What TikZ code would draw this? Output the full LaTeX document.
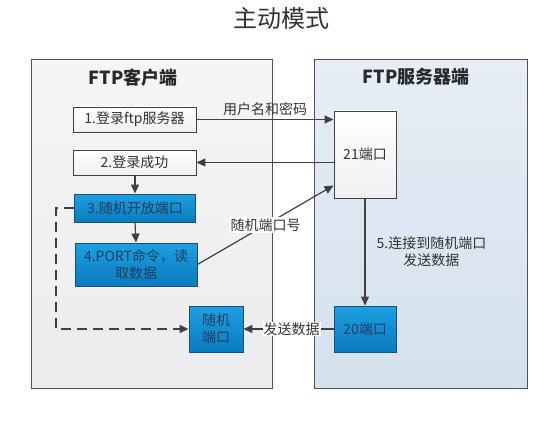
\documentclass[tikz,border=0pt]{standalone}
\usepackage{fontspec}
\setmainfont{Noto Sans CJK SC}
\usetikzlibrary{arrows.meta,calc}
\definecolor{linec}{HTML}{404040}
\definecolor{txt}{HTML}{333333}
\definecolor{bluetop}{HTML}{1E9FE3}
\definecolor{bluebot}{HTML}{0A7BBE}
\definecolor{blueedge}{HTML}{1B4F7A}
\definecolor{bluetxt}{HTML}{1F3F5E}
\tikzset{
  panelL/.style={draw=linec!90, line width=1pt, top color=gray!8, bottom color=gray!15},
  panelR/.style={draw=linec!90, line width=1pt, top color={rgb,255:red,230;green,237;blue,245}, bottom color={rgb,255:red,212;green,225;blue,237}},
  whitebox/.style={draw=linec, line width=0.9pt, top color=white, bottom color=gray!12, text=txt, font=\fontsize{14}{16}\selectfont, inner sep=2pt},
  bluebox/.style={draw=blueedge, line width=0.9pt, top color=bluetop, bottom color=bluebot, text=bluetxt, font=\fontsize{14}{17}\selectfont, align=center, inner sep=2pt},
  conn/.style={draw=linec, line width=1.2pt, -{Triangle[length=9pt,width=8pt]}},
  lbl/.style={text=txt, font=\fontsize{14}{17}\selectfont, inner sep=1pt},
  ptitle/.style={text=txt!80!black, font=\fontsize{18}{20}\selectfont\bfseries},
}
\begin{document}
\begin{tikzpicture}[x=1pt,y=-1pt]
\useasboundingbox[fill=white] (0,0) rectangle (549,433);
% title
\node[text=txt, font=\fontsize{24}{26}\selectfont] (title) at (281,18) {主动模式};
% panels
\path[panelL] (31,60) rectangle (272,388);
\path[panelR] (314,60) rectangle (527,388);
\node[ptitle] (ctitle) at (133,78) {FTP客户端};
\node[ptitle] (stitle) at (416,77) {FTP服务器端};
% client boxes
\node[whitebox, minimum width=123pt, minimum height=25pt] (b1) at (134.5,119.5) {1.登录ftp服务器};
\node[whitebox, minimum width=123pt, minimum height=25pt] (b2) at (134.5,162.5) {2.登录成功};
\node[bluebox, minimum width=121pt, minimum height=28pt] (b3) at (135,208) {3.随机开放端口};
\node[bluebox, minimum width=122pt, minimum height=43pt] (b4) at (136,264.5) {4.PORT命令，读\\取数据};
\node[bluebox, minimum width=54pt, minimum height=46pt] (rp) at (216,329) {随机\\端口};
% server boxes
\node[whitebox, minimum width=62pt, minimum height=87pt] (p21) at (365,154.5) {21端口};
\node[bluebox, minimum width=62pt, minimum height=46pt] (p20) at (365,329) {20端口};
% connectors
\draw[conn] (b1.east) -- (b1.east -| p21.west) node[lbl, midway, above=2pt] {用户名和密码};
\draw[conn] (b2.east -| p21.west) -- (b2.east);
\draw[conn] (b2.south -| b3.north) -- (b3.north);
\draw[conn] (b3.south) -- (b4.north);
\coordinate (p21c) at ($(p21.south west)+(0,-13)$);
\draw[conn] (b4.east) -- (p21c) node[lbl, midway, fill=white, inner sep=2pt] {随机端口号};
\draw[conn] (p21.south) -- (p20.north) node[lbl, midway, right=10pt, align=center] {5.连接到随机端口\\发送数据};
\draw[conn] (p20.west) -- (rp.east) node[lbl, midway, fill=white, inner sep=1pt, xshift=3pt] {发送数据};
\draw[conn, dash pattern=on 10pt off 6pt] (b3.west) -- ++(-18,0) |- (rp.west);
\end{tikzpicture}
\end{document}
